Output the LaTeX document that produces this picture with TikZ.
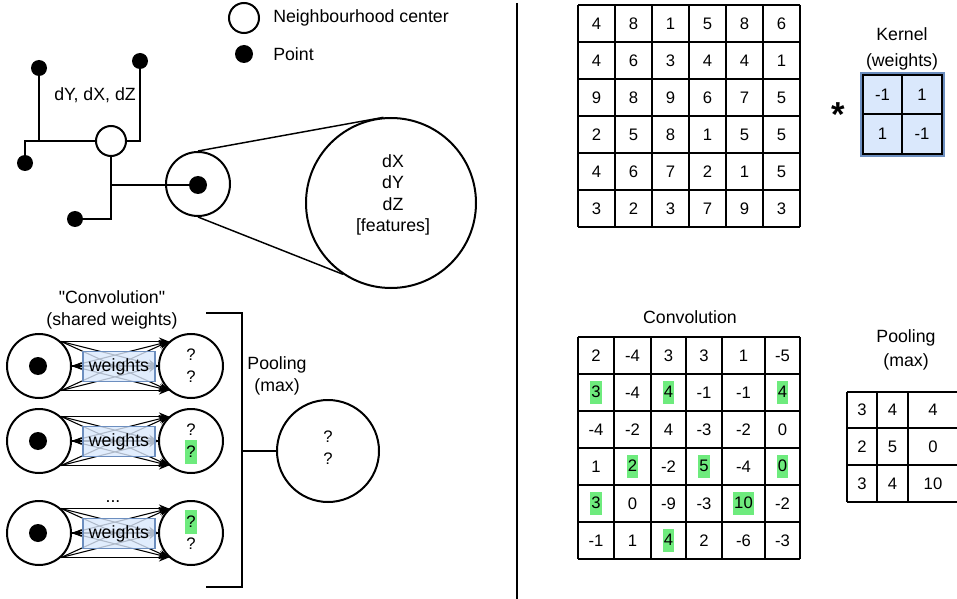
\documentclass[tikz,border=0pt]{standalone}
\usepackage{fontspec}
\setmainfont{Liberation Sans}[Ligatures=TeXOff]
\usetikzlibrary{arrows.meta}
\definecolor{hlgreen}{RGB}{110,235,125}
\definecolor{wfill}{RGB}{218,232,252}
\definecolor{wdraw}{RGB}{108,142,191}
\newcommand\hlg[1]{{\setlength{\fboxsep}{0.8pt}\colorbox{hlgreen}{\rule[-4pt]{0pt}{16pt}#1}}}
\begin{document}
\begin{tikzpicture}[x=0.75pt,y=-0.75pt,
  lbl/.style={font=\fontsize{13.3}{16}\selectfont, inner sep=0pt, align=center},
  num/.style={font=\fontsize{12.5}{15}\selectfont, inner sep=0pt},
  ring/.style={circle, draw, line width=1.5pt, inner sep=0pt},
  dot/.style={circle, fill, inner sep=0pt},
  wire/.style={line width=1.1pt},
  gridline/.style={line width=1.1pt},
  conn/.style={line width=0.8pt, -{Stealth[length=7.5pt,width=6pt]}},
  wbox/.style={draw=wdraw, fill=wfill, fill opacity=0.8, text opacity=1, line width=0.9pt,
    minimum width=54pt, minimum height=22pt, inner sep=0pt, font=\fontsize{13.3}{16}\selectfont}
]
\useasboundingbox (0,0) rectangle (957,599);

% legend
\node[ring, minimum size=22.5pt] (legnc) at (244,18) {};
\node[lbl, anchor=west] (legnct) at (273,18) {Neighbourhood center};
\node[dot, minimum size=13.5pt] (legpt) at (244,54) {};
\node[lbl, anchor=west] (legptt) at (273,54) {Point};

% neighbourhood tree
\node[ring, minimum size=22.5pt] (nc) at (111,141) {};
\node[dot, minimum size=12pt] (p1) at (39,68) {};
\node[dot, minimum size=12pt] (p2) at (140,61) {};
\node[dot, minimum size=12pt] (p3) at (25,163) {};
\node[dot, minimum size=12pt] (p4) at (75,219) {};
\node[dot, minimum size=13.5pt] (p5) at (198,185) {};
\node[ring, minimum size=48pt] (zc) at (198,184) {};
\node[ring, minimum size=127.5pt] (big) at (391,203) {};
\node[lbl] (feat) at (393,195) {dX\\dY\\dZ\\{[features]}};
\node[lbl] (dxyz) at (95,95) {dY, dX, dZ};
\draw[wire] (p3) |- (nc);
\draw[wire] (p1) -- (p1 |- nc);
\draw[wire] (nc) -| (p2);
\draw[wire] (nc) |- (p4);
\draw[wire] (nc |- p5) -- (p5);
\draw[wire] (zc.90) -- (big.95);
\draw[wire] (zc.270) -- (big.236);

% shared-weight convolution
\node[lbl] (convt) at (112,310) {"Convolution"\\(shared weights)};
\foreach \y/\n/\qa/\qb in {366/1/?/?, 441/2/?/\hlg{?}, 533/3/\hlg{?}/?} {
  \node[ring, minimum size=48pt] (L\n) at (39,\y) {};
  \node[dot, minimum size=13.5pt] (Ld\n) at (38,\y) {};
  \node[ring, minimum size=48pt] (R\n) at (191,\y) {};
  \foreach \a in {48,0,-48} {
    \foreach \b in {132,180,228} {
      \draw[conn] (L\n.\a) -- (R\n.\b);
    }
  }
  \draw[conn] (R\n.180) -- (L\n.0);
  \node[wbox] (W\n) at (119,\y+0.5) {weights};
  \node[num] (Qa\n) at (191,\y-11) {\qa};
  \node[num] (Qb\n) at (191,\y+11) {\qb};
}
\node[lbl, anchor=base] (vdots) at (113,502) {...};

% pooling bracket
\coordinate (bt1) at (206,313);
\coordinate (bt2) at (242,313);
\coordinate (bb2) at (242,587);
\coordinate (bb1) at (206,587);
\coordinate (bm) at (242,451);
\draw[line width=1.5pt] (bt1) -- (bt2) -- (bb2) -- (bb1);
\node[ring, minimum size=76.5pt] (pool) at (328,451) {};
\draw[line width=1.5pt] (bm) -- (pool);
\node[num] (pq1) at (328,437) {?};
\node[num] (pq2) at (328,459) {?};
\node[lbl] (poolt) at (277,376) {Pooling\\(max)};

% divider
\coordinate (dv1) at (517,3);
\coordinate (dv2) at (517,599);
\draw[line width=1.1pt] (dv1) -- (dv2);

% input grid
\foreach \i in {0,...,6} {
  \draw[gridline] ({578+37*\i},5) -- ({578+37*\i},227);
  \draw[gridline] (578,{5+37*\i}) -- (800,{5+37*\i});
}
\foreach \row [count=\r] in {{4,8,1,5,8,6},{4,6,3,4,4,1},{9,8,9,6,7,5},{2,5,8,1,5,5},{4,6,7,2,1,5},{3,2,3,7,9,3}} {
  \foreach \v [count=\c] in \row {
    \node[num] (in-\r-\c) at ({578+37*(\c-0.5)},{5+37*(\r-0.5)}) {\v};
  }
}

% kernel
\node[font=\fontsize{26}{26}\selectfont\bfseries, anchor=base, inner sep=0pt] (star) at (838,127) {*};
\node[font=\fontsize{13.3}{19}\selectfont, inner sep=0pt, align=center] (kt) at (902,49) {Kernel\\(weights)};
\fill[wfill] (863,75) rectangle (942,154);
\draw[wdraw, line width=1pt] (861,73) rectangle (944,156);
\draw[gridline] (863,75) rectangle (942,154);
\draw[gridline] (902,75) -- (902,154);
\draw[gridline] (863,114) -- (942,114);
\node[num] (k11) at (882.5,94.5) {-1};
\node[num] (k12) at (922,94.5) {1};
\node[num] (k21) at (882.5,134) {1};
\node[num] (k22) at (922,134) {-1};

% convolution grid
\node[lbl] (convt2) at (690,317) {Convolution};
\foreach \xx in {578,614,651,686,722,765,800} {
  \draw[gridline] (\xx,337) -- (\xx,559);
}
\foreach \i in {0,...,6} {
  \draw[gridline] (578,{337+37*\i}) -- (800,{337+37*\i});
}
\foreach \row [count=\r] in {{2,-4,3,3,1,-5},{\hlg{3},-4,\hlg{4},-1,-1,\hlg{4}},{-4,-2,4,-3,-2,0},{1,\hlg{2},-2,\hlg{5},-4,\hlg{0}},{\hlg{3},0,-9,-3,\hlg{10},-2},{-1,1,\hlg{4},2,-6,-3}} {
  \foreach \v [count=\c] in \row {
    \pgfmathsetmacro\cx{{596,632.5,668.5,704,743.5,782.5}[\c-1]}
    \node[num] (cv-\r-\c) at (\cx,{337+37*(\r-0.5)}) {\v};
  }
}

% pooling grid
\node[font=\fontsize{13.3}{18.5}\selectfont, inner sep=0pt, align=center] (poolt2) at (906,350) {Pooling\\(max)};
\foreach \xx in {847,877,908,959} {
  \draw[gridline] (\xx,392) -- (\xx,502);
}
\foreach \yy in {392,428,465,502} {
  \draw[gridline] (847,\yy) -- (959,\yy);
}
\foreach \row [count=\r] in {{3,4,4},{2,5,0},{3,4,10}} {
  \foreach \v [count=\c] in \row {
    \pgfmathsetmacro\cx{{862,892.5,933}[\c-1]}
    \pgfmathsetmacro\cy{{410,446.5,483.5}[\r-1]}
    \node[num] (pl-\r-\c) at (\cx,\cy) {\v};
  }
}
\end{tikzpicture}
\end{document}
